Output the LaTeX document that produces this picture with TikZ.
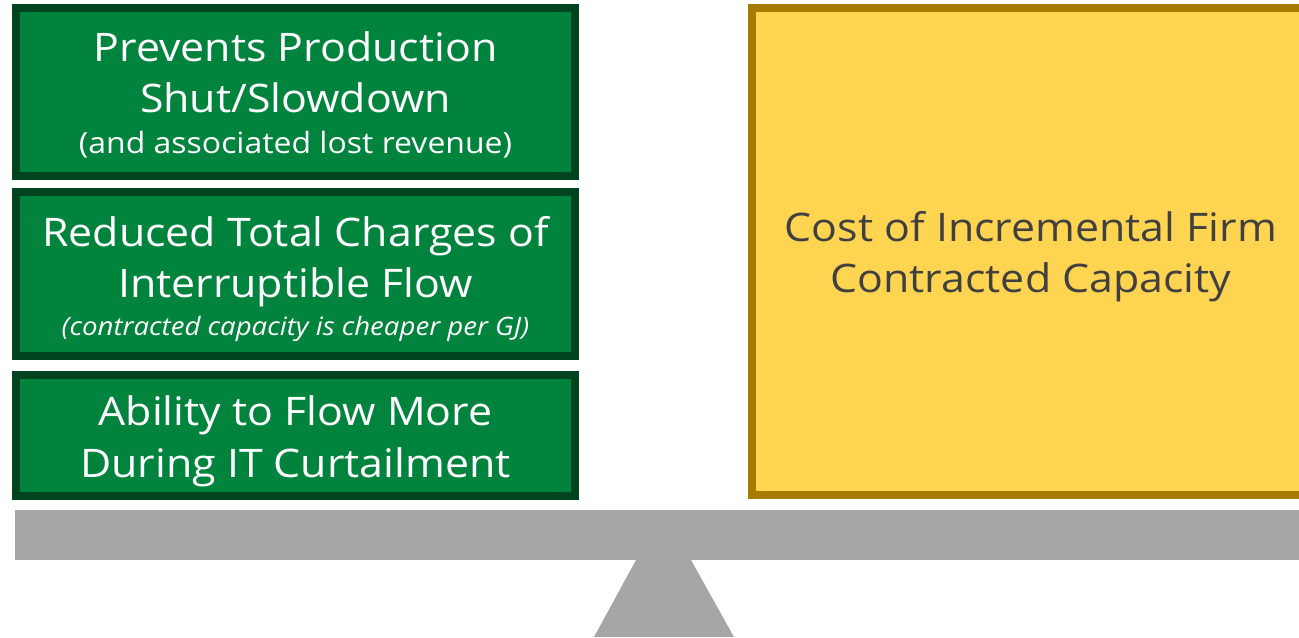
\documentclass[tikz,border=0pt]{standalone}
\usepackage{fontspec}
\setmainfont{Open Sans}[FakeStretch=1.09]
\definecolor{benefitfill}{RGB}{0,132,61}
\definecolor{benefitline}{RGB}{0,68,31}
\definecolor{costfill}{RGB}{255,212,80}
\definecolor{costline}{RGB}{165,124,0}
\definecolor{costtext}{RGB}{64,64,64}
\definecolor{beamgray}{RGB}{166,166,166}
\tikzset{
  benefitbox/.style={draw=benefitline,fill=benefitfill,line width=6pt},
  costbox/.style={draw=costline,fill=costfill,line width=6pt},
  bigtext/.style={anchor=base,inner sep=0pt,font=\fontsize{29.5}{36}\selectfont},
  notetext/.style={anchor=base,inner sep=0pt,font=\fontsize{22}{26}\selectfont},
}
\begin{document}
\begin{tikzpicture}[x=0.75pt,y=0.75pt,yscale=-1,xscale=1]
		\useasboundingbox (0,0) rectangle (1299,637);
		
		%Boxes
		\draw [benefitbox] (16,8) rectangle (575,176);
		\draw [benefitbox] (16,192) rectangle (575,356);
		\draw [benefitbox] (16,375) rectangle (575,496);
		\draw [costbox] (752,8) rectangle (1318,495);
		
		%Beam and pivot
		\fill [beamgray] (15,510) rectangle (1299,560);
		\fill [beamgray] (636,560) -- (691,560) -- (734,637) -- (594,637) -- cycle;
		
		% Text Node
		\node [bigtext,white] (prevA) at (295.5,61) {Prevents Production};
		\node [bigtext,white] (prevB) at (295.5,112) {Shut/Slowdown};
		\node [notetext,white] (prevnote) at (295.5,153) {(and associated lost revenue)};
		% Text Node
		\node [bigtext,white] (reducedA) at (295.5,246) {Reduced Total Charges of};
		\node [bigtext,white] (reducedB) at (295.5,297) {Interruptible Flow};
		\node [notetext,white,font=\fontsize{19}{24}\selectfont\itshape] (reducednote) at (295.5,335) {(contracted capacity is cheaper per GJ)};
		% Text Node
		\node [bigtext,white] (abilityA) at (295.5,425) {Ability to Flow More};
		\node [bigtext,white] (abilityB) at (295.5,477) {During IT Curtailment};
		% Text Node
		\node [bigtext,costtext] (costA) at (1031,241) {Cost of Incremental Firm};
		\node [bigtext,costtext] (costB) at (1031,292) {Contracted Capacity};
		
\end{tikzpicture}
\end{document}
